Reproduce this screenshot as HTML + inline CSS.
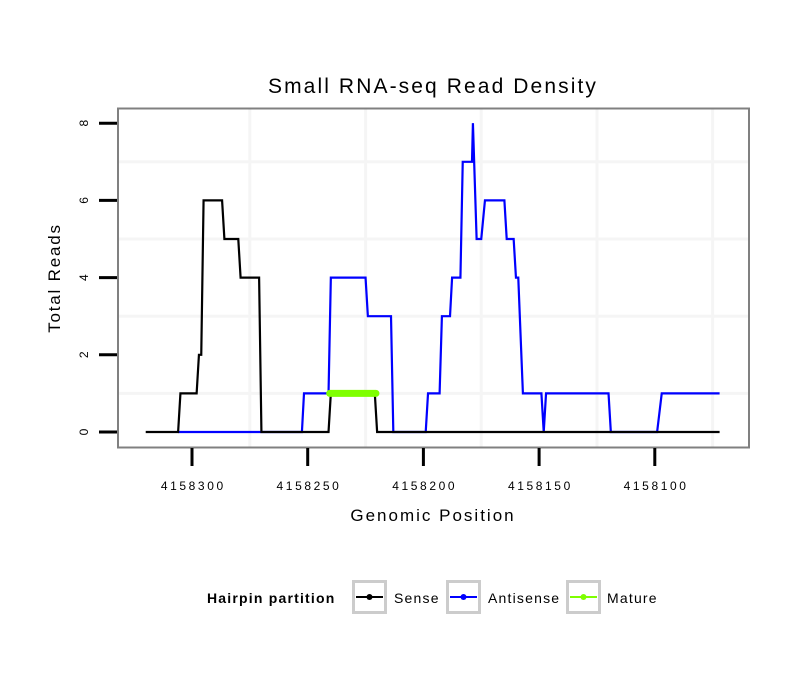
<!DOCTYPE html>
<html><head><meta charset="utf-8"><style>
body{margin:0;background:#fff;}
svg{display:block;font-family:"Liberation Sans",sans-serif;}
</style></head><body>
<svg id="chart" width="810" height="690">
<rect width="810" height="690" fill="#fff"/>
<text x="433" y="93" font-size="21" letter-spacing="2.1" text-anchor="middle">Small RNA-seq Read Density</text>
<g id="grid"></g>
<g id="series"></g>
<rect x="118" y="108.5" width="631" height="339" fill="none" stroke="#808080" stroke-width="2"/>
<g id="axes"></g>
<text x="433" y="521" font-size="17" letter-spacing="2" text-anchor="middle">Genomic Position</text>
<text transform="translate(60,278) rotate(-90)" font-size="17" letter-spacing="1.8" text-anchor="middle">Total Reads</text>
<g>
<text x="207" y="603" font-size="14" letter-spacing="1.2" font-weight="bold">Hairpin partition</text>
<g>
<rect x="353.5" y="581.5" width="32" height="31" fill="#fff" stroke="#cccccc" stroke-width="3"/>
<line x1="356" y1="597" x2="383" y2="597" stroke="#000" stroke-width="2"/><circle cx="369.5" cy="597" r="3" fill="#000"/>
<text x="394" y="603" font-size="14" letter-spacing="1.2">Sense</text></g>
<g>
<rect x="447.5" y="581.5" width="32" height="31" fill="#fff" stroke="#cccccc" stroke-width="3"/>
<line x1="450" y1="597" x2="477" y2="597" stroke="#0000ff" stroke-width="2"/><circle cx="463.5" cy="597" r="3" fill="#0000ff"/>
<text x="488" y="603" font-size="14" letter-spacing="1.2">Antisense</text></g>
<g>
<rect x="567.5" y="581.5" width="32" height="31" fill="#fff" stroke="#cccccc" stroke-width="3"/>
<line x1="570" y1="597" x2="597" y2="597" stroke="#7fff00" stroke-width="2"/><circle cx="583.5" cy="597" r="3" fill="#7fff00"/>
<text x="607" y="603" font-size="14" letter-spacing="1.2">Mature</text></g>
</g>
</svg>
<script>
const xTicks=[4158300,4158250,4158200,4158150,4158100];
const yTicks=[0,2,4,6,8];
const sensePos=[4158320,4158306,4158305,4158298,4158297,4158296,4158295,4158287,4158286,4158280,4158279,4158271,4158270,4158241,4158240,4158221,4158220,4158072];
const senseVal=[0,0,1,1,2,2,6,6,5,5,4,4,0,0,1,1,0,0];
const antiPos=[4158306,4158252.5,4158251.6,4158241,4158240,4158225,4158224,4158214,4158213,4158199,4158198,4158193,4158192,4158188.5,4158187.6,4158184,4158183,4158179,4158178.6,4158177,4158175,4158173.4,4158165,4158164,4158161,4158160,4158159,4158157,4158149,4158148,4158147,4158120,4158119,4158099,4158097,4158072];
const antiVal=[0,0,1,1,4,4,3,3,0,0,1,1,3,3,4,4,7,7,8,5,5,6,6,5,5,4,4,1,1,0,1,1,0,0,1,1];
const maturePos=[4158240.5,4158220.5];
const matureVal=[1,1];
const NS='http://www.w3.org/2000/svg';
function xs(p){return 192+(4158300-p)*2.314;}
function ys(v){return 432-v*38.6;}
function mk(tag,attrs,parent){const e=document.createElementNS(NS,tag);for(const k in attrs)e.setAttribute(k,attrs[k]);parent.appendChild(e);return e;}
const grid=document.getElementById('grid'),series=document.getElementById('series'),axes=document.getElementById('axes');
for(let v=1;v<=7;v+=2){const l=mk('line',{x1:118,x2:749,y1:ys(v),y2:ys(v),stroke:'#f5f5f5','stroke-width':3},grid);

}
for(let p=4158275;p>=4158050;p-=50){const x=xs(p);if(x<118||x>749)continue;const l=mk('line',{x1:x,x2:x,y1:108,y2:447,stroke:'#f5f5f5','stroke-width':3},grid);

}
function poly(pos,val,color,w,name,cap){const pts=pos.map((p,i)=>xs(p)+','+ys(val[i])).join(' ');
const e=mk('polyline',{points:pts,fill:'none',stroke:color,'stroke-width':w,'stroke-linejoin':'miter','stroke-linecap':cap||'butt'},series);

}
poly(antiPos,antiVal,'#0000ff',2.2,'antisense-line');
poly(sensePos,senseVal,'#000',2.2,'sense-line');
poly(maturePos,matureVal,'#7fff00',7,'mature-line','round');
yTicks.forEach(v=>{const y=ys(v);
const t=mk('line',{x1:99,x2:117,y1:y,y2:y,stroke:'#000','stroke-width':3},axes);


const tx=mk('text',{transform:`translate(88,${y}) rotate(-90)`,'font-size':12,'text-anchor':'middle'},axes);tx.textContent=v;

});
xTicks.forEach(p=>{const x=xs(p);
const t=mk('line',{x1:x,x2:x,y1:448,y2:466,stroke:'#000','stroke-width':3},axes);


const tx=mk('text',{x:x+1.3,y:490,'font-size':12,'letter-spacing':2.6,'text-anchor':'middle'},axes);tx.textContent=p;

});
</script>
</body></html>
